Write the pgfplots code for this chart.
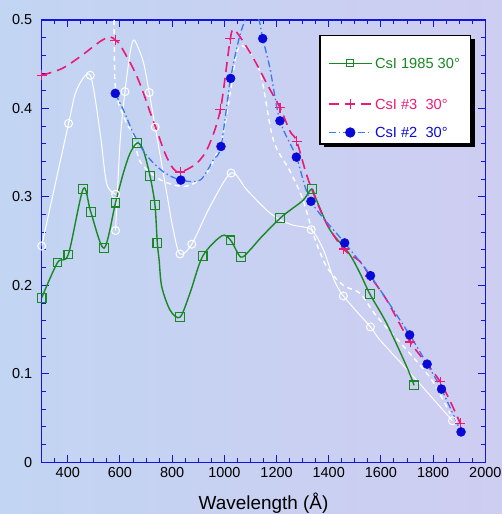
\documentclass[border=0pt]{standalone}
\usepackage{fontspec}
\setmainfont{Liberation Sans}
\usepackage{pgfplots}
\pgfplotsset{compat=1.18}

\definecolor{bgA}{RGB}{194,213,242}
\definecolor{bgB}{RGB}{206,205,242}
\definecolor{axisblue}{RGB}{20,20,225}
\definecolor{csgreen}{RGB}{25,135,35}
\definecolor{cspink}{RGB}{235,25,120}
\definecolor{csblueline}{RGB}{60,120,240}
\definecolor{csbluedot}{RGB}{10,10,215}

\begin{document}
\begin{tikzpicture}[x=1bp,y=1bp]
\path[use as bounding box] (0,0) rectangle (502,514);
\shade[left color=bgA, right color=bgB] (0,0) rectangle (502,514);
% shadow behind the legend box
\fill[black] (323.5,366.5) rectangle (474.5,475);
\begin{axis}[
  at={(41.7bp,51.7bp)}, anchor=south west,
  scale only axis, width=443.6bp, height=442.3bp,
  xmin=300, xmax=2000, ymin=0, ymax=0.5,
  axis line style={axisblue, line width=1.4bp},
  tick style={axisblue, line width=1bp},
  major tick length=7.5bp, minor tick length=4bp,
  tick align=inside,
  xtick={400,600,800,1000,1200,1400,1600,1800,2000},
  xticklabels={400,600,800,1000,1200,1400,1600,1800,2000},
  minor xtick={300,350,...,2000},
  ytick={0,0.1,0.2,0.3,0.4,0.5},
  yticklabels={0,0.1,0.2,0.3,0.4,0.5},
  minor ytick={0.02,0.04,0.06,0.08,0.12,0.14,0.16,0.18,0.22,0.24,0.26,0.28,0.32,0.34,0.36,0.38,0.42,0.44,0.46,0.48},
  tick label style={font=\fontsize{14.5}{16}\selectfont, text=black},
  yticklabel style={xshift=-6bp},
  xticklabel style={yshift=-2bp},
  xlabel={Wavelength (Å)},
  xlabel style={font=\fontsize{19}{22}\selectfont, text=black, yshift=-8bp},
  legend image code/.code={\draw[mark repeat=2, mark phase=2, #1] plot coordinates {(0bp,5bp) (21.5bp,5bp) (43bp,5bp)};},
  legend style={at={(1,1)}, anchor=north east, xshift=-14.3bp, yshift=-15bp,
    draw=black, line width=1.2bp, fill=white,
    font=\fontsize{14.7}{16}\selectfont,
    inner xsep=8bp, inner ysep=1bp, row sep=0pt,
    cells={anchor=base west},
    nodes={inner xsep=2.5bp, inner ysep=4bp}},
]

% --- white reference curves (no legend) ---
\addplot[white, line width=1bp, smooth, forget plot] coordinates {
  (300,0.2445) (403,0.383) (434,0.421) (486,0.4375) (524,0.372) (549,0.315) (583,0.303)};
\addplot[white, line width=1bp, smooth, forget plot] coordinates {
  (583,0.262) (600,0.36) (619,0.419) (640,0.465) (651,0.477) (662,0.474) (690,0.452)
  (712,0.418) (735,0.379) (777,0.308) (804,0.263) (830,0.2355) (875,0.2465) (945,0.289)
  (1026,0.327) (1086,0.308) (1162,0.285) (1214,0.274) (1264,0.268) (1333,0.263)
  (1380,0.240) (1418,0.208) (1456,0.188) (1560,0.153) (1597,0.138) (1724,0.097) (1874,0.047)};
\addplot[only marks, mark=o, mark size=4bp, white, line width=1bp, forget plot] coordinates {
  (300,0.2445) (403,0.383) (486,0.4375) (583,0.303) (583,0.262) (619,0.419) (712,0.418)
  (735,0.379) (830,0.2355) (875,0.2465) (1026,0.327) (1333,0.263) (1456,0.188)
  (1560,0.153) (1874,0.047)};
\addplot[white, line width=1.4bp, dash pattern=on 5bp off 4bp, smooth, forget plot] coordinates {
  (577,0.51) (579,0.45) (582,0.425) (594,0.406) (626,0.383) (651,0.370) (677,0.340)
  (740,0.322) (800,0.314) (850,0.312) (894,0.317) (940,0.33) (996,0.372) (1047,0.462)
  (1075,0.470) (1110,0.458) (1143,0.434) (1188,0.364) (1250,0.33) (1300,0.298)
  (1344,0.255) (1392,0.221) (1456,0.200) (1520,0.191) (1584,0.165) (1699,0.127)
  (1795,0.093) (1865,0.055)};

% --- CsI 1985 30 deg ---
\addplot[csgreen, line width=1.4bp, smooth, forget plot] coordinates {
  (300,0.186) (361,0.226) (402,0.235) (459,0.309) (488,0.283) (539,0.242) (583,0.2935)
  (613,0.327) (638,0.349) (666,0.361) (689,0.353) (715,0.3237) (734,0.291) (743,0.248)
  (750,0.2287) (760,0.1985) (792,0.172) (830,0.164) (868,0.191) (917,0.233) (990,0.256)
  (1024,0.251) (1063,0.232) (1098,0.240) (1143,0.255) (1214,0.276) (1252,0.285)
  (1303,0.2965) (1335,0.309) (1353,0.2965) (1405,0.2626) (1478,0.236) (1520,0.2136)
  (1558,0.190) (1622,0.157) (1699,0.108) (1727,0.087)};
\addplot[only marks, mark=square, mark size=4.3bp, csgreen, line width=1.1bp, forget plot] coordinates {
  (300,0.186) (361,0.226) (402,0.235) (459,0.309) (488,0.283) (539,0.242) (583,0.2935)
  (666,0.361) (715,0.3237) (734,0.291) (743,0.248) (830,0.164) (917,0.233) (1024,0.251)
  (1063,0.232) (1214,0.276) (1335,0.309) (1558,0.190) (1727,0.087)};

% --- CsI #3 30 deg ---
\addplot[cspink, line width=1.6bp, dash pattern=on 10bp off 6bp, smooth, forget plot] coordinates {
  (300,0.4375) (377,0.445) (447,0.4585) (523,0.4755) (562,0.481) (582,0.477) (600,0.472)
  (651,0.445) (683,0.423) (715,0.396) (740,0.376) (773,0.349) (804,0.332) (831,0.328)
  (894,0.338) (939,0.357) (985,0.399) (1023,0.479) (1041,0.488) (1105,0.460)
  (1169,0.4246) (1213,0.401) (1252,0.374) (1277,0.363) (1322,0.319) (1388,0.272)
  (1457,0.241) (1520,0.227) (1558,0.2105) (1622,0.1835) (1712,0.136) (1827,0.091)
  (1904,0.044)};
\addplot[only marks, mark=+, mark size=5bp, cspink, line width=1.3bp, forget plot] coordinates {
  (300,0.4375) (582,0.477) (831,0.328) (985,0.399) (1023,0.479) (1213,0.401) (1277,0.363)
  (1457,0.241) (1558,0.2105) (1712,0.136) (1827,0.091) (1904,0.044)};

% --- CsI #2 30 deg ---
\addplot[csblueline, line width=1.3bp, dash pattern=on 7bp off 3bp on 1.5bp off 3bp, smooth, forget plot] coordinates {
  (582,0.417) (619,0.3945) (651,0.372) (702,0.347) (766,0.3285) (833,0.319) (907,0.319)
  (958,0.342) (987,0.357) (1024,0.434) (1060,0.483) (1092,0.506) (1130,0.502)
  (1147,0.479) (1175,0.445) (1213,0.386) (1276,0.345) (1332,0.295) (1461,0.248)
  (1560,0.211) (1710,0.144) (1777,0.111) (1832,0.0828) (1907,0.0343)};
\addplot[only marks, mark=*, mark size=4.5bp, csbluedot, forget plot] coordinates {
  (582,0.417) (833,0.319) (987,0.357) (1024,0.434) (1147,0.479) (1213,0.386) (1276,0.345)
  (1332,0.295) (1461,0.248) (1560,0.211) (1710,0.144) (1777,0.111) (1832,0.0828)
  (1907,0.0343)};

% --- legend ---
\addlegendimage{csgreen, line width=1.4bp, mark=square, mark size=3.6bp, mark options={solid, line width=1bp}}
\addlegendentry{\rule{0pt}{27.7bp}\textcolor{csgreen}{CsI 1985 30°}}
\addlegendimage{cspink, line width=1.6bp, dash pattern=on 10bp off 6bp, mark=+, mark size=5bp, mark options={solid, line width=1.3bp}}
\addlegendentry{\rule{0pt}{31.4bp}\textcolor{cspink}{CsI \#3\ \ 30°}}
\addlegendimage{csblueline, line width=1.3bp, dash pattern=on 7bp off 3bp on 1.5bp off 3bp, mark=*, mark size=4.5bp, mark options={solid, csbluedot}}
\addlegendentry{\rule{0pt}{18.8bp}\textcolor{csbluedot}{CsI \#2\ \ 30°}}
\end{axis}
\end{tikzpicture}
\end{document}
